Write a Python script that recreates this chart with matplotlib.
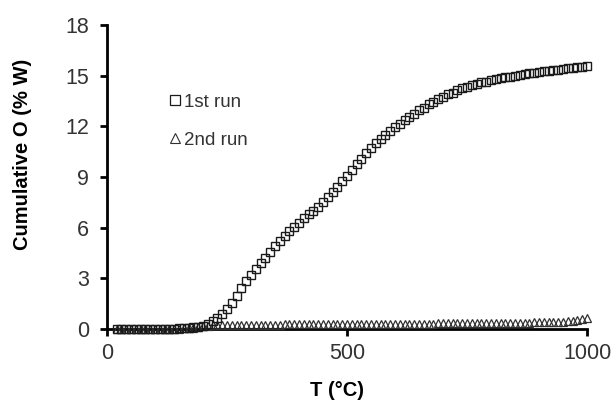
import matplotlib
matplotlib.use('Agg')
import matplotlib.pyplot as plt
from matplotlib.lines import Line2D

plt.rcParams['font.family'] = ['Liberation Sans', 'DejaVu Sans']

# temperature steps (°C)
temp = [20, 30, 40, 50, 60, 70, 80, 90, 100,
        110, 120, 130, 140, 150, 160, 170, 180, 190, 200,
        210, 220, 230, 240, 250, 260, 270, 280, 290, 300,
        310, 320, 330, 340, 350, 360, 370, 380, 390, 400,
        410, 420, 430, 440, 450, 460, 470, 480, 490, 500,
        510, 520, 530, 540, 550, 560, 570, 580, 590, 600,
        610, 620, 630, 640, 650, 660, 670, 680, 690, 700,
        710, 720, 730, 740, 750, 760, 770, 780, 790, 800,
        810, 820, 830, 840, 850, 860, 870, 880, 890, 900,
        910, 920, 930, 940, 950, 960, 970, 980, 990, 1000]

# cumulative O, first run (% W)
run1 = [0.0, 0.0, 0.0, 0.0, 0.0, 0.0, 0.0, 0.0, 0.01,
        0.01, 0.01, 0.02, 0.02, 0.03, 0.04, 0.06, 0.09, 0.13, 0.2,
        0.3, 0.45, 0.65, 0.9, 1.2, 1.55, 1.95, 2.4, 2.85, 3.2,
        3.55, 3.9, 4.2, 4.55, 4.9, 5.2, 5.5, 5.8, 6.05, 6.3,
        6.55, 6.8, 7.0, 7.25, 7.5, 7.8, 8.1, 8.4, 8.75, 9.05,
        9.4, 9.75, 10.05, 10.4, 10.7, 11.0, 11.25, 11.5, 11.75, 11.95,
        12.15, 12.35, 12.55, 12.75, 12.95, 13.1, 13.3, 13.45, 13.6, 13.75,
        13.9, 14.0, 14.15, 14.25, 14.35, 14.45, 14.5, 14.6, 14.65, 14.72,
        14.78, 14.84, 14.9, 14.95, 15.0, 15.05, 15.1, 15.15, 15.18, 15.22,
        15.26, 15.3, 15.33, 15.36, 15.4, 15.43, 15.46, 15.5, 15.53, 15.56]

# cumulative O, second run (% W)
run2 = [0.0, 0.0, 0.0, 0.0, 0.0, 0.0, 0.0, 0.0, 0.0,
        0.0, 0.0, 0.01, 0.01, 0.02, 0.03, 0.05, 0.08, 0.12, 0.16,
        0.2, 0.22, 0.23, 0.23, 0.24, 0.24, 0.24, 0.25, 0.25, 0.25,
        0.25, 0.26, 0.26, 0.26, 0.26, 0.26, 0.27, 0.27, 0.27, 0.27,
        0.27, 0.28, 0.28, 0.28, 0.28, 0.28, 0.29, 0.29, 0.29, 0.29,
        0.29, 0.29, 0.3, 0.3, 0.3, 0.3, 0.3, 0.3, 0.31, 0.31,
        0.31, 0.31, 0.31, 0.32, 0.32, 0.32, 0.32, 0.32, 0.33, 0.33,
        0.33, 0.33, 0.34, 0.34, 0.34, 0.34, 0.35, 0.35, 0.35, 0.35,
        0.36, 0.36, 0.36, 0.37, 0.37, 0.37, 0.38, 0.38, 0.39, 0.39,
        0.4, 0.41, 0.42, 0.43, 0.44, 0.47, 0.5, 0.54, 0.58, 0.64]

xticks = [0, 500, 1000]
yticks = [0, 3, 6, 9, 12, 15, 18]

fig = plt.figure(figsize=(6.13, 4.01), dpi=100)
ax = fig.add_axes([0.1746, 0.1796, 0.783, 0.758])

ax.plot(temp, run2, linestyle='none', marker='^', markersize=5.6,
        markerfacecolor='none', markeredgecolor='#303030',
        markeredgewidth=0.9, clip_on=False, zorder=3)
ax.plot(temp, run1, linestyle='none', marker='s', markersize=6.2,
        markerfacecolor='none', markeredgecolor='#1a1a1a',
        markeredgewidth=1.0, clip_on=False, zorder=4)

ax.set_xlim(0, 1000)
ax.set_ylim(0, 18)
ax.set_xticks(xticks)
ax.set_yticks(yticks)

for side in ['top', 'right']:
    ax.spines[side].set_visible(False)
for side in ['left', 'bottom']:
    ax.spines[side].set_linewidth(2.0)
    ax.spines[side].set_color('black')
    ax.spines[side].set_zorder(2)

ax.tick_params(axis='both', direction='out', length=5, width=2.0,
               labelsize=15.5, labelcolor='#333333', color='black')
ax.tick_params(axis='x', pad=5)
ax.tick_params(axis='y', pad=8)

ax.set_xlabel('T (°C)', fontsize=14.5, fontweight='bold')
ax.set_ylabel('Cumulative O (% W)', fontsize=14.5, fontweight='bold')
ax.xaxis.set_label_coords(0.48, -0.171)
ax.yaxis.set_label_coords(-0.156, 0.575)

handles = [
    Line2D([], [], linestyle='none', marker='s', markersize=6.5,
           markerfacecolor='none', markeredgecolor='#1a1a1a', markeredgewidth=0.9),
    Line2D([], [], linestyle='none', marker='^', markersize=6.5,
           markerfacecolor='none', markeredgecolor='#303030', markeredgewidth=0.8),
]
leg = ax.legend(handles, ['1st run', '2nd run'], loc='upper left',
                bbox_to_anchor=(0.11, 0.805), frameon=False, fontsize=13.5,
                handlelength=0.65, handletextpad=0.15, labelspacing=1.1,
                borderpad=0)
for t in leg.get_texts():
    t.set_color('#333333')

fig.savefig('out.png', dpi=100)
